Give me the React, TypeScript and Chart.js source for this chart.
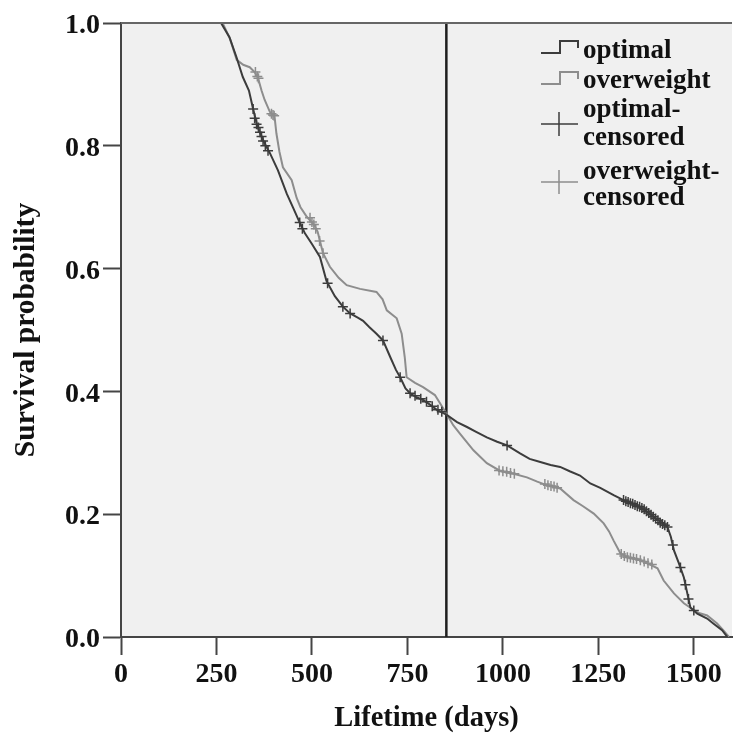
import React, { useEffect, useRef } from "react";
import { Chart, registerables } from "chart.js";

Chart.register(...registerables);

// ---- data (days, survival probability) ----
const xTicks = [0, 250, 500, 750, 1000, 1250, 1500];
const yTicks = [0, 0.2, 0.4, 0.6, 0.8, 1.0];
const referenceDay = 852;

const optimalCurve: [number, number][] = [
  [0, 1], [262, 1], [284, 0.977], [302, 0.945], [319, 0.912], [335, 0.89], [346, 0.86],
  [358, 0.83], [376, 0.804], [390, 0.788], [411, 0.76], [434, 0.722], [450, 0.7],
  [468, 0.675], [482, 0.657], [500, 0.64], [521, 0.619], [538, 0.58], [560, 0.555],
  [581, 0.538], [600, 0.527], [620, 0.52], [634, 0.515], [650, 0.505], [669, 0.494],
  [686, 0.483], [705, 0.456], [720, 0.435], [731, 0.423], [745, 0.405], [757, 0.397],
  [775, 0.39], [791, 0.386], [810, 0.378], [827, 0.37], [852, 0.362], [880, 0.35],
  [906, 0.342], [930, 0.334], [958, 0.325], [985, 0.318], [1011, 0.312], [1045, 0.299],
  [1070, 0.29], [1098, 0.285], [1125, 0.28], [1150, 0.277], [1175, 0.27], [1202, 0.263],
  [1229, 0.25], [1255, 0.243], [1290, 0.231], [1316, 0.223], [1340, 0.217], [1360, 0.211],
  [1380, 0.203], [1395, 0.195], [1415, 0.187], [1431, 0.179], [1440, 0.163], [1448, 0.141],
  [1461, 0.12], [1474, 0.097], [1483, 0.071], [1491, 0.048], [1509, 0.038], [1535, 0.03],
  [1551, 0.022], [1574, 0.011], [1588, 0.0],
];

const overweightCurve: [number, number][] = [
  [0, 1], [266, 1], [285, 0.975], [303, 0.94], [320, 0.932], [337, 0.928], [350, 0.92],
  [358, 0.912], [368, 0.89], [376, 0.875], [390, 0.855], [402, 0.848], [407, 0.82],
  [415, 0.79], [424, 0.765], [447, 0.744], [460, 0.715], [470, 0.7], [487, 0.684],
  [505, 0.672], [515, 0.66], [529, 0.625], [547, 0.603], [570, 0.585], [591, 0.573],
  [626, 0.567], [669, 0.562], [685, 0.55], [696, 0.532], [722, 0.519], [735, 0.494],
  [743, 0.456], [748, 0.423], [770, 0.414], [791, 0.407], [822, 0.394], [852, 0.364],
  [870, 0.345], [888, 0.331], [923, 0.304], [958, 0.283], [994, 0.27], [1028, 0.266],
  [1063, 0.26], [1090, 0.253], [1116, 0.247], [1150, 0.242], [1185, 0.223], [1210, 0.213],
  [1238, 0.201], [1264, 0.185], [1278, 0.172], [1290, 0.157], [1308, 0.136], [1326, 0.13],
  [1360, 0.125], [1379, 0.12], [1405, 0.112], [1421, 0.092], [1448, 0.071], [1474, 0.055],
  [1509, 0.04], [1535, 0.035], [1561, 0.022], [1577, 0.011], [1592, 0.0],
];

const optimalCensored: [number, number][] = [
  [346, 0.86], [350, 0.845], [355, 0.835], [360, 0.83], [364, 0.822], [368, 0.815],
  [372, 0.808], [378, 0.8], [385, 0.792], [468, 0.675], [475, 0.665], [541, 0.576],
  [581, 0.538], [600, 0.527], [686, 0.483], [731, 0.423], [757, 0.397], [770, 0.393],
  [785, 0.388], [800, 0.383], [815, 0.376], [830, 0.37], [840, 0.367], [1011, 0.312],
  [1316, 0.223], [1322, 0.221], [1328, 0.22], [1334, 0.218], [1340, 0.217], [1346, 0.215],
  [1352, 0.213], [1358, 0.212], [1364, 0.21], [1370, 0.208], [1376, 0.205], [1382, 0.202],
  [1388, 0.199], [1394, 0.196], [1400, 0.193], [1406, 0.19], [1412, 0.186], [1418, 0.184],
  [1424, 0.182], [1431, 0.179], [1445, 0.15], [1465, 0.113], [1478, 0.085], [1486, 0.062],
  [1500, 0.043],
];

const overweightCensored: [number, number][] = [
  [352, 0.92], [357, 0.913], [360, 0.91], [394, 0.852], [398, 0.85], [401, 0.849],
  [495, 0.683], [500, 0.676], [505, 0.672], [510, 0.665], [520, 0.645], [529, 0.625],
  [990, 0.271], [1000, 0.27], [1010, 0.269], [1020, 0.267], [1030, 0.266],
  [1110, 0.249], [1118, 0.247], [1126, 0.246], [1134, 0.245], [1142, 0.243],
  [1310, 0.135], [1318, 0.132], [1326, 0.13], [1334, 0.129], [1342, 0.128], [1350, 0.127],
  [1360, 0.125], [1370, 0.123], [1380, 0.12], [1390, 0.118],
];

const seriesLabels = ["optimal", "overweight", "optimal-censored", "overweight-censored"];
const legendLines = [["optimal"], ["overweight"], ["optimal-", "censored"], ["overweight-", "censored"]];

// ---- styles ----
const DARK = "#3c3c3c";
const LIGHT = "#8d8d8d";
const AXIS = "#454545";
const TEXT = "#111111";
const SERIF = "'Liberation Serif', 'Times New Roman', serif";

const toXY = (arr: [number, number][]) => arr.map(([x, y]) => ({ x, y }));

const backgroundPlugin = {
  id: "plotBackground",
  beforeDraw(chart: any) {
    const { ctx, chartArea } = chart;
    ctx.save();
    ctx.fillStyle = "#f0f0f0";
    ctx.fillRect(chartArea.left, chartArea.top, chartArea.right - chartArea.left, chartArea.bottom - chartArea.top);
    ctx.restore();
  },
  afterDraw(chart: any) {
    const { ctx, chartArea } = chart;
    ctx.save();
    ctx.strokeStyle = "#666666";
    ctx.lineWidth = 2;
    ctx.beginPath();
    ctx.moveTo(chartArea.left, chartArea.top);
    ctx.lineTo(chartArea.right, chartArea.top);
    ctx.stroke();
    ctx.restore();
  },
};

const legendPlugin = {
  id: "kmLegend",
  afterDraw(chart: any) {
    const { ctx } = chart;
    ctx.save();
    ctx.font = `bold 27px ${SERIF}`;
    ctx.fillStyle = TEXT;
    ctx.textAlign = "left";
    ctx.textBaseline = "alphabetic";
    const textX = 583;
    const baselines = [[58], [88], [117, 145], [179, 205]];
    legendLines.forEach((lines, i) => {
      lines.forEach((t, j) => ctx.fillText(t, textX, baselines[i][j]));
    });
    ctx.lineWidth = 2;
    const steps = [
      { y: 53, c: DARK },
      { y: 84, c: LIGHT },
    ];
    steps.forEach(({ y, c }) => {
      ctx.strokeStyle = c;
      ctx.beginPath();
      ctx.moveTo(541, y);
      ctx.lineTo(560, y);
      ctx.lineTo(560, y - 12);
      ctx.lineTo(578, y - 12);
      ctx.lineTo(578, y - 5);
      ctx.stroke();
    });
    const crosses = [
      { y: 124, c: DARK },
      { y: 182, c: LIGHT },
    ];
    ctx.lineWidth = 1.5;
    crosses.forEach(({ y, c }) => {
      ctx.strokeStyle = c;
      ctx.beginPath();
      ctx.moveTo(541, y);
      ctx.lineTo(578, y);
      ctx.moveTo(559, y - 12);
      ctx.lineTo(559, y + 12);
      ctx.stroke();
    });
    ctx.restore();
  },
};

export default function App() {
  const canvasRef = useRef<HTMLCanvasElement | null>(null);

  useEffect(() => {
    if (!canvasRef.current) return;
    const chart = new Chart(canvasRef.current, {
      type: "scatter",
      data: {
        datasets: [
          { label: seriesLabels[0], data: toXY(optimalCurve), showLine: true, borderColor: DARK, borderWidth: 2, pointRadius: 0, tension: 0 },
          { label: seriesLabels[2], data: toXY(optimalCensored), showLine: false, pointStyle: "cross", pointRadius: 5, borderColor: DARK, borderWidth: 1.5 },
          { label: seriesLabels[1], data: toXY(overweightCurve), showLine: true, borderColor: LIGHT, borderWidth: 2, pointRadius: 0, tension: 0 },
          { label: seriesLabels[3], data: toXY(overweightCensored), showLine: false, pointStyle: "cross", pointRadius: 5, borderColor: LIGHT, borderWidth: 1.5 },
          {
            label: "reference",
            data: [{ x: referenceDay, y: 0 }, { x: referenceDay, y: 1 }],
            showLine: true, borderColor: "#1e1e1e", borderWidth: 2.5, pointRadius: 0,
          },
        ],
      },
      options: {
        animation: false,
        responsive: false,
        events: [],
        layout: { autoPadding: false, padding: { top: 23, right: 1, left: 0, bottom: 0 } },
        plugins: { legend: { display: false }, tooltip: { enabled: false } },
        scales: {
          x: {
            type: "linear",
            position: "bottom",
            min: 0,
            max: 1600,
            afterBuildTicks: (scale: any) => { scale.ticks = xTicks.map((v) => ({ value: v })); },
            afterFit: (scale: any) => { scale.height = 96; scale.paddingLeft = 0; scale.paddingRight = 0; },
            ticks: {
              font: { family: SERIF, size: 28, weight: "bold", lineHeight: 1 },
              color: TEXT, padding: 6, maxRotation: 0, autoSkip: false,
              callback: (v: any) => String(v),
            },
            grid: { display: true, drawOnChartArea: false, drawTicks: true, tickLength: 18, tickColor: AXIS, tickWidth: 2, color: AXIS },
            border: { display: true, color: AXIS, width: 2 },
            title: {
              display: true, text: "Lifetime (days)", color: TEXT,
              font: { family: SERIF, size: 28.5, weight: "bold", lineHeight: 1 },
              padding: { top: 0, bottom: 0 },
            },
          },
          y: {
            type: "linear",
            min: 0,
            max: 1,
            afterBuildTicks: (scale: any) => { scale.ticks = yTicks.map((v) => ({ value: v })); },
            afterFit: (scale: any) => { scale.width = 121; scale.paddingTop = 0; scale.paddingBottom = 0; },
            ticks: {
              font: { family: SERIF, size: 28, weight: "bold", lineHeight: 1 },
              color: TEXT, padding: 3, labelOffset: 3, autoSkip: false,
              callback: (v: any) => Number(v).toFixed(1),
            },
            grid: { display: true, drawOnChartArea: false, drawTicks: true, tickLength: 18, tickColor: AXIS, tickWidth: 2, color: AXIS },
            border: { display: true, color: AXIS, width: 2 },
            title: {
              display: true, text: "Survival probability", color: TEXT,
              font: { family: SERIF, size: 29.5, weight: "bold", lineHeight: 1 },
              padding: { top: 12, bottom: 0 },
            },
          },
        },
      },
      plugins: [backgroundPlugin, legendPlugin],
    } as any);
    return () => chart.destroy();
  }, []);

  return (
    <div style={{ position: "fixed", left: 0, top: 0, width: 733, height: 733, background: "#ffffff" }}>
      <canvas ref={canvasRef} width={733} height={733} style={{ display: "block", width: 733, height: 733 }} />
    </div>
  );
}
